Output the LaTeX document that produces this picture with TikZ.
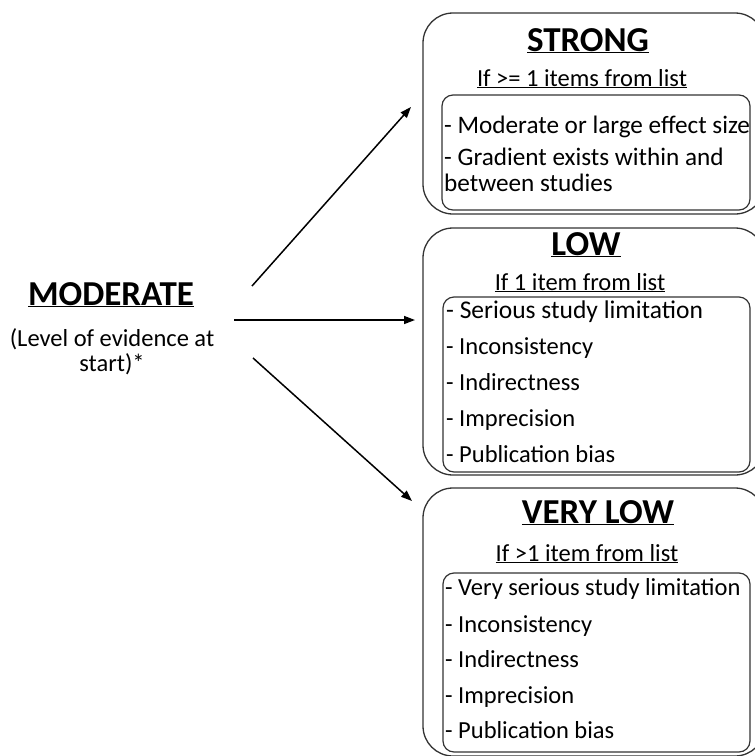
\documentclass[tikz,border=0pt]{standalone}
\usepackage{fontspec}
\setmainfont{Carlito}
\usetikzlibrary{arrows.meta}
\newcommand{\ulbox}[1]{\underline{#1}}
\begin{document}
\begin{tikzpicture}[x=1pt,y=-1pt,
  outerbox/.style={draw=black!80,line width=1.3pt,rounded corners=30pt},
  innerbox/.style={draw=black!80,line width=1.2pt,rounded corners=11pt},
  titletxt/.style={font=\fontsize{35}{38}\selectfont\bfseries,anchor=base,inner sep=0pt},
  subtxt/.style={font=\fontsize{24.5}{28}\selectfont,anchor=base,inner sep=0pt},
  itemtxt/.style={font=\fontsize{24.5}{28}\selectfont,anchor=base west,inner sep=0pt},
  arr/.style={line width=1.5pt,-{Triangle[length=11pt,width=8pt]}}
]
\useasboundingbox (0,0) rectangle (755,756);
\begin{scope}
\clip (0,0) rectangle (755,756);
% STRONG
\draw[outerbox] (423,13) rectangle (765,214);
\draw[innerbox] (442,95) rectangle (750,210);
\node[titletxt] (strongt) at (588,51) {\ulbox{STRONG}};
\node[subtxt] (strongs) at (582,86) {\ulbox{If >= 1 items from list}};
\node[itemtxt,font=\fontsize{25.2}{28}\selectfont] (s1) at (444,133) {- Moderate or large effect size};
\node[itemtxt,font=\fontsize{25.2}{28}\selectfont] (s2) at (444,165) {- Gradient exists within and};
\node[itemtxt,font=\fontsize{25.2}{28}\selectfont] (s3) at (444,191) {between studies};
% LOW
\draw[outerbox] (423,228) rectangle (765,475);
\draw[innerbox] (443,297) rectangle (750,472);
\node[titletxt] (lowt) at (586,255) {\ulbox{LOW}};
\node[subtxt] (lows) at (580,290) {\ulbox{If 1 item from list}};
\node[itemtxt,font=\fontsize{25.5}{28}\selectfont] (l1) at (446,318) {- Serious study limitation};
\node[itemtxt] (l2) at (446,354) {- Inconsistency};
\node[itemtxt] (l3) at (446,390) {- Indirectness};
\node[itemtxt] (l4) at (446,426) {- Imprecision};
\node[itemtxt] (l5) at (446,462) {- Publication bias};
% VERY LOW
\draw[outerbox] (423,488) rectangle (765,756);
\draw[innerbox] (443,573) rectangle (750,752);
\node[titletxt] (vlt) at (598,523) {\ulbox{VERY LOW}};
\node[subtxt] (vls) at (587,561) {\ulbox{If >1 item from list}};
\node[itemtxt] (v1) at (445,595) {- Very serious study limitation};
\node[itemtxt] (v2) at (445,632) {- Inconsistency};
\node[itemtxt] (v3) at (445,667) {- Indirectness};
\node[itemtxt] (v4) at (445,703) {- Imprecision};
\node[itemtxt] (v5) at (445,738) {- Publication bias};
\end{scope}
% MODERATE
\node[titletxt] (mod) at (111,305) {\ulbox{MODERATE}};
\node[subtxt] (modsub1) at (112,346) {(Level of evidence at};
\node[subtxt] (modsub2) at (112,371) {start)*};
% arrows
\coordinate (a1s) at (252,286);
\coordinate (a1e) at (411,107);
\coordinate (a2s) at (234,320);
\coordinate (a2e) at (415,320);
\coordinate (a3s) at (253,358);
\coordinate (a3e) at (412,501);
\draw[arr] (a1s) -- (a1e);
\draw[arr] (a2s) -- (a2e);
\draw[arr] (a3s) -- (a3e);
\end{tikzpicture}
\end{document}
